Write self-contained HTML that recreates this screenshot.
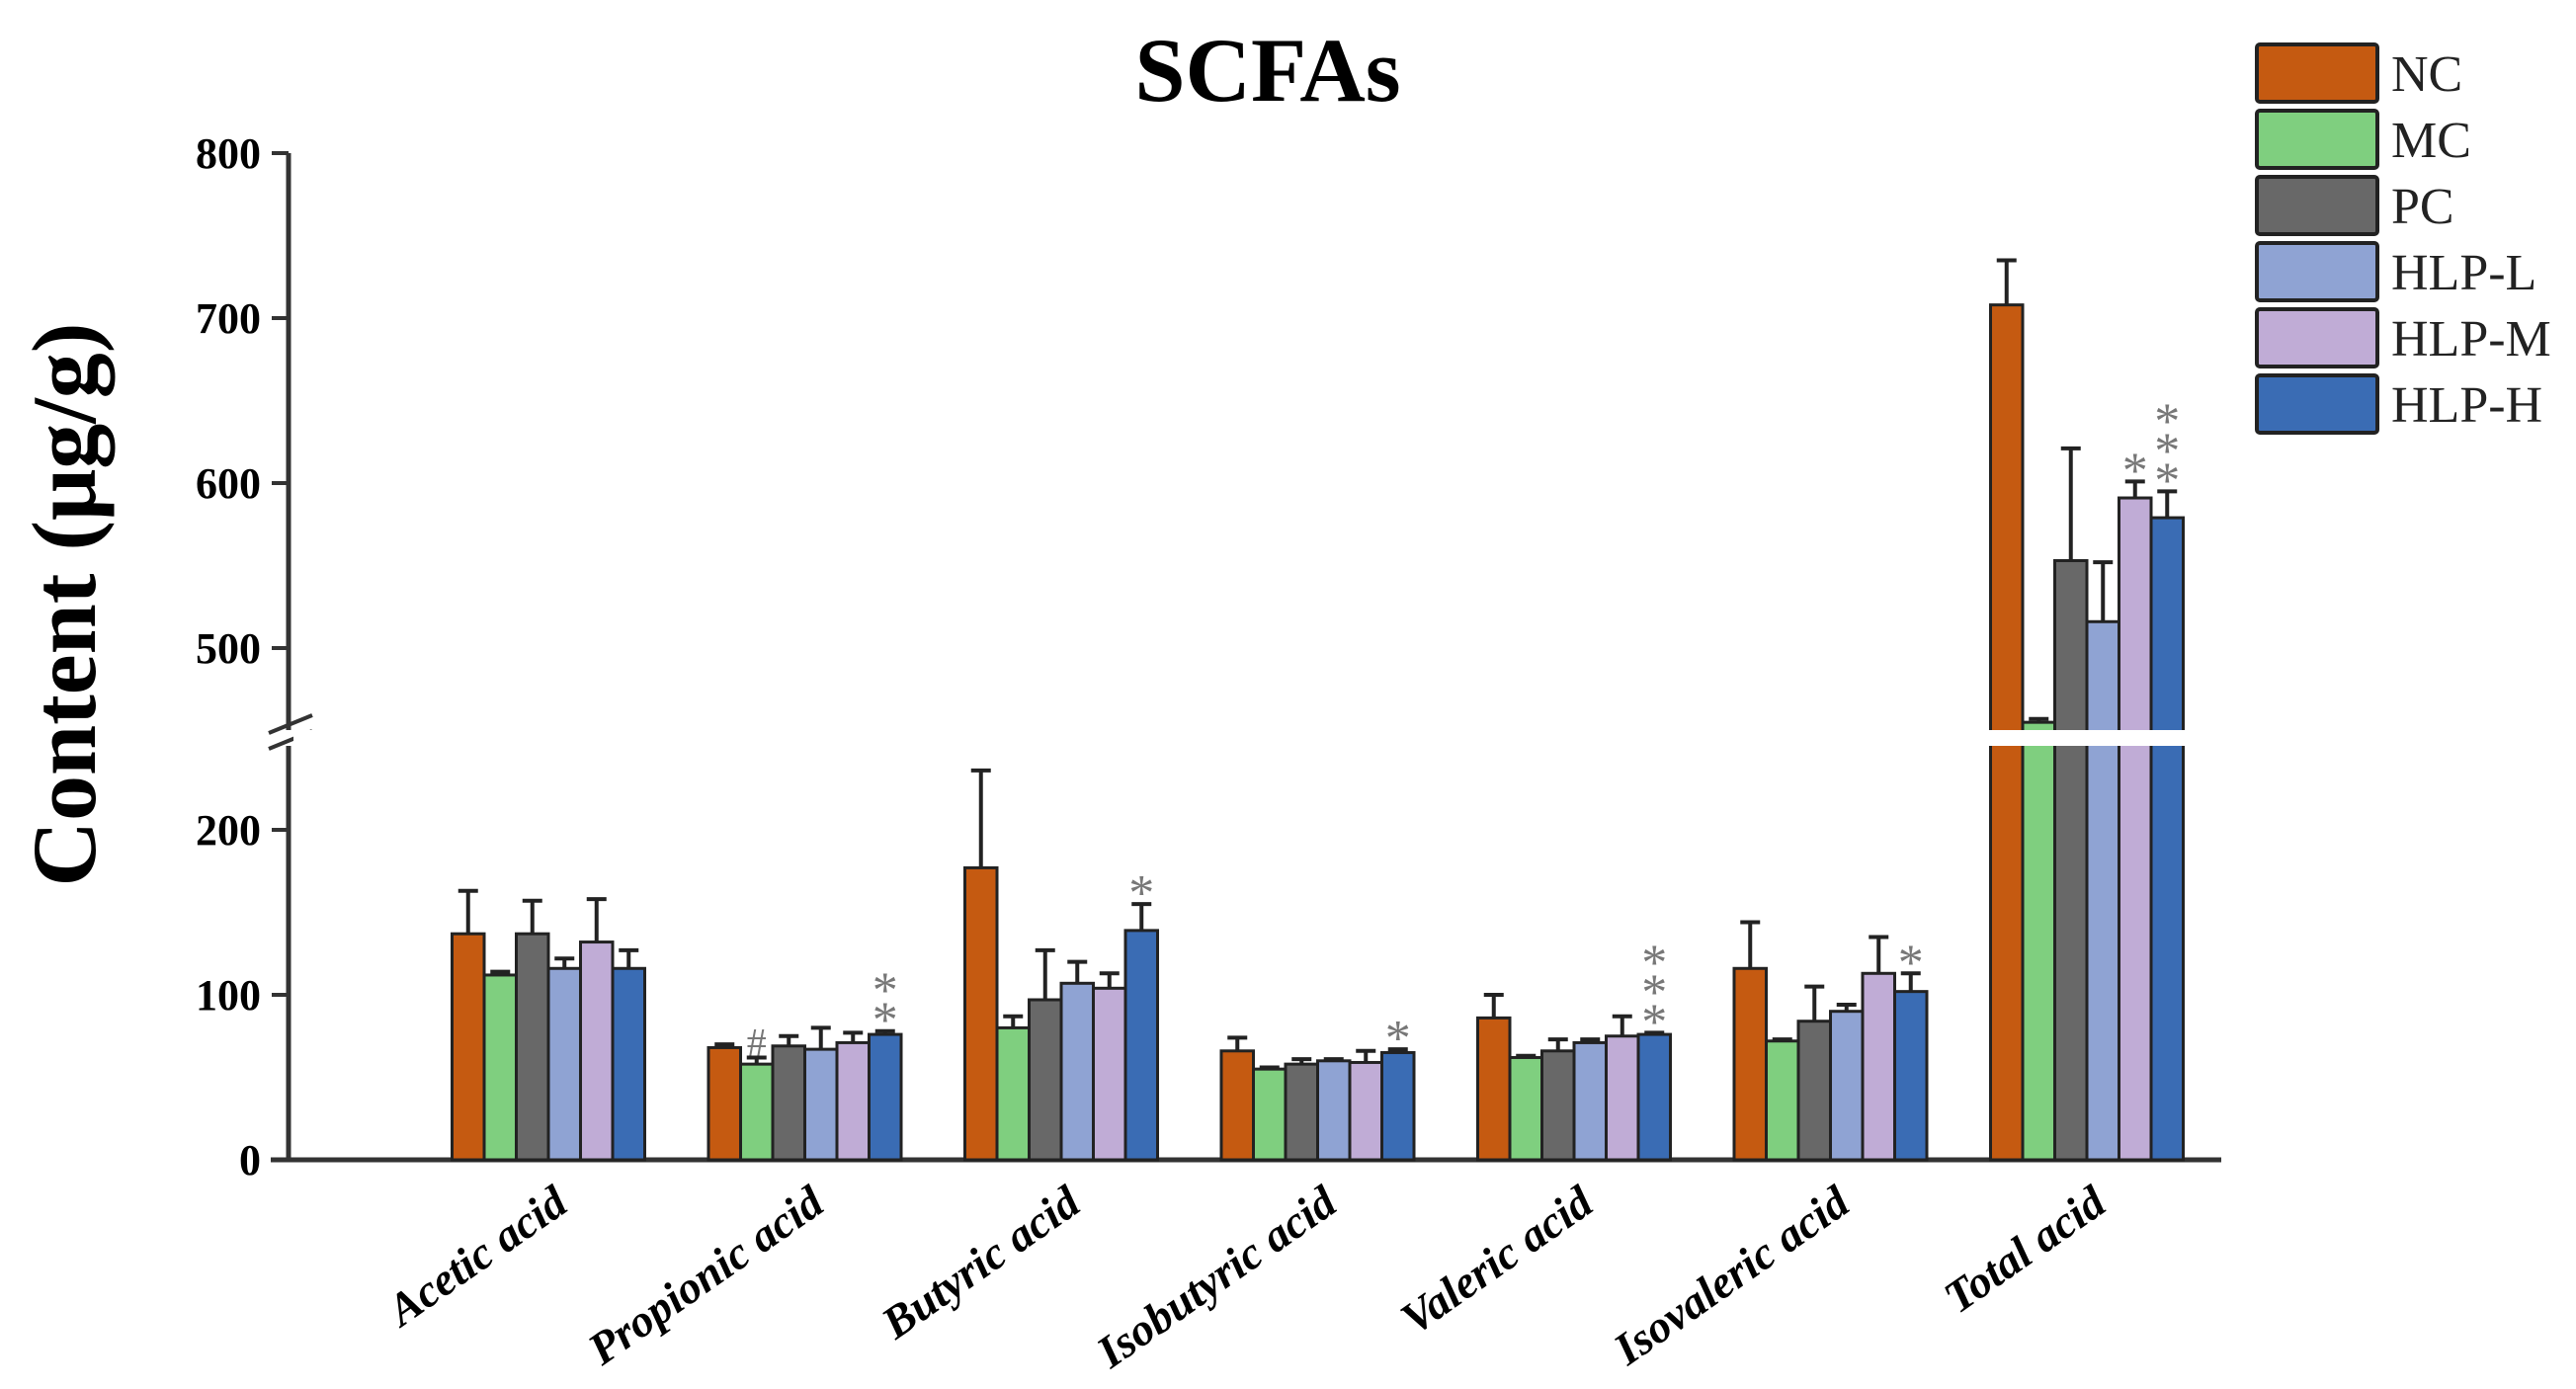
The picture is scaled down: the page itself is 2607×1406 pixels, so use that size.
<!DOCTYPE html>
<html><head><meta charset="utf-8"><style>
html,body{margin:0;padding:0;background:#fff;}
svg{display:block;font-family:"Liberation Serif",serif;}
</style></head><body>
<svg id="chart" width="2607" height="1406" viewBox="0 0 2607 1406" xmlns="http://www.w3.org/2000/svg">
<rect width="2607" height="1406" fill="#fff"/>
<text x="1283" y="102" text-anchor="middle" font-size="92" font-weight="bold">SCFAs</text>
<text transform="translate(96,612) rotate(-90)" text-anchor="middle" font-size="92" font-weight="bold">Content (μg/g)</text>
<g id="axes"></g>
<g id="bars"></g>
<g id="legend"></g>
</svg>
<script>
const categories = ["Acetic acid","Propionic acid","Butyric acid","Isobutyric acid","Valeric acid","Isovaleric acid","Total acid"];
const seriesNames = ["NC","MC","PC","HLP-L","HLP-M","HLP-H"];
const valNC  = [137,68,177,66,86,116,708];
const valMC  = [112,58,80,55,62,72,455];
const valPC  = [137,69,97,58,66,84,553];
const valHL  = [116,67,107,60,71,90,516];
const valHM  = [132,71,104,59,75,113,591];
const valHH  = [116,76,139,65,76,102,579];
const errNC  = [26,2,59,8,14,28,27];
const errMC  = [2,4,7,1,1,1,2];
const errPC  = [20,6,30,3,7,21,68];
const errHL  = [6,13,13,1,2,4,36];
const errHM  = [26,6,9,7,12,22,10];
const errHH  = [11,2,16,2,1,11,16];
const marks = [
  ["","","","","",""],
  ["","#","","","","**"],
  ["","","","","","*"],
  ["","","","","","*"],
  ["","","","","","***"],
  ["","","","","","*"],
  ["","","","","*","***"]
];
const lowerTicks = [0,100,200];
const upperTicks = [500,600,700,800];

const colors = ["#c55a11","#7fcf7f","#686868","#8fa3d3","#c0acd6","#3a6cb4"];
const vals = [valNC,valMC,valPC,valHL,valHM,valHH];
const errs = [errNC,errMC,errPC,errHL,errHM,errHH];
const NS = "http://www.w3.org/2000/svg";
const axisX = 292, base = 1174, pxPer = 1.67;
const lowTopY = 755, upBotY = 739;
function y(v){ return v <= 300 ? base - v*pxPer : 656 - (v-500)*pxPer; }
const x0 = 555, step = 259.5, bw = 32.5;
function gx(i){ return x0 + i*step; }
function mk(tag, attrs, parent){ const e=document.createElementNS(NS,tag); for(const k in attrs) e.setAttribute(k,attrs[k]); parent.appendChild(e); return e; }
const axes = document.getElementById('axes'), bars = document.getElementById('bars'), legend = document.getElementById('legend');

for(let c=0;c<categories.length;c++){
  for(let s=0;s<6;s++){
    const v = vals[s][c], e = errs[s][c];
    const bx = gx(c) - 3*bw + s*bw;
    const top = y(v);
    const r = mk('rect',{x:bx,y:top,width:bw,height:base-top,fill:colors[s],stroke:"#222","stroke-width":3},bars);
    
    
    const cx = bx + bw/2, et = y(v+e);
    const l = mk('path',{d:`M${cx},${top} V${et} M${cx-10},${et} H${cx+10}`,stroke:"#222","stroke-width":4,fill:"none"},bars);
    
    
    const m = marks[c][s];
    if(m){
      for(let k=0;k<m.length;k++){
        const t = mk('text',{x:cx,y:m[k]=="#"?et-2:et+6-k*30,"text-anchor":"middle","font-size":m[k]=="#"?40:52,fill:"#777"},bars);
        t.textContent = m[k];
        
        
      }
    }
  }
}
mk('rect',{x:axisX+5,y:upBotY,width:2000,height:lowTopY-upBotY,fill:"#fff"},bars);

mk('path',{d:`M${axisX},${y(800)} V${upBotY} M${axisX},${lowTopY} V${base}`,stroke:"#333","stroke-width":5,fill:"none"},axes);
mk('path',{d:`M274,${base} H2248`,stroke:"#333","stroke-width":5},axes);
mk('path',{d:`M272,742 L316,724 M272,758 L316,740`,stroke:"#333","stroke-width":4},axes);
for(const t of lowerTicks.concat(upperTicks)){
  const ty=y(t);
  mk('path',{d:`M${axisX-17},${ty} H${axisX}`,stroke:"#333","stroke-width":4},axes);
  const tx = mk('text',{x:264,y:ty+15,"text-anchor":"end","font-size":44,"font-weight":"bold"},axes);
  tx.textContent = t;
  
  
}
for(let c=0;c<categories.length;c++){
  const tx = mk('text',{transform:`translate(${gx(c)+22},1224) rotate(-35)`,"text-anchor":"end","font-size":46,"font-weight":"bold","font-style":"italic"},axes);
  tx.textContent = categories[c];
  
  
}
for(let s=0;s<6;s++){
  const ty = 45 + s*67;
  const r = mk('rect',{x:2284,y:ty,width:122,height:58,fill:colors[s],stroke:"#222","stroke-width":4,rx:3},legend);
  
  
  const t = mk('text',{x:2420,y:ty+47,"font-size":52,fill:"#222"},legend);
  t.textContent = seriesNames[s];
  
  
}
</script>
</body></html>
